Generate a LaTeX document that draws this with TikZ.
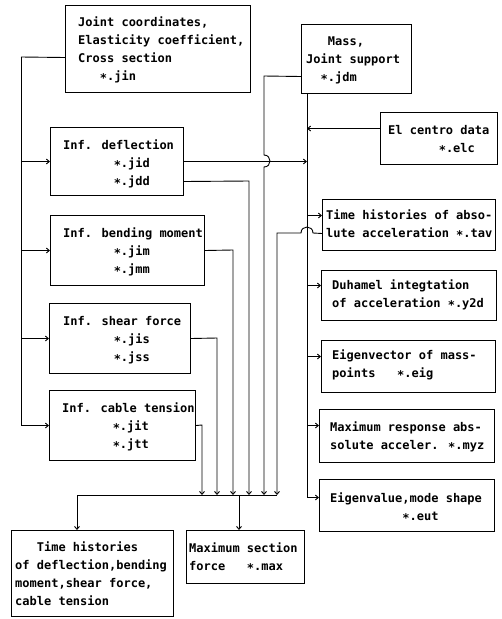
\documentclass[tikz,border=0pt]{standalone}
\usepackage{fontspec}
\newfontfamily\monofont{DejaVu Sans Mono}
\usetikzlibrary{arrows.meta,calc}
\newcommand\chsp[1]{\hspace*{#1\fontcharwd\font`x}}
\newcommand\mystar{\raisebox{-2pt}{*}}
\begin{document}
\begin{tikzpicture}[x=1pt,y=-1pt,
  box/.style={draw, line width=1pt, inner sep=0pt, anchor=north west},
  txt/.style={inner sep=0pt, anchor=north west, align=left, font=\monofont\bfseries\fontsize{12}{18}\selectfont},
  conn/.style={line width=0.9pt},
  arr/.style={conn, -{Straight Barb[length=3pt,width=5pt]}}]
\path[fill=white] (0,0) rectangle (502,619);
\useasboundingbox (0,0) rectangle (502,619);
% boxes
\node[box, minimum width=185pt, minimum height=87pt] (jin) at (65,5) {};
\node[box, minimum width=110pt, minimum height=69pt] (jdm) at (301,24) {};
\node[box, minimum width=117pt, minimum height=52pt] (elc) at (380,112) {};
\node[box, minimum width=133pt, minimum height=68pt] (jid) at (50,127) {};
\node[box, minimum width=154pt, minimum height=70pt] (jim) at (50,215) {};
\node[box, minimum width=141pt, minimum height=70pt] (jis) at (49,303) {};
\node[box, minimum width=146pt, minimum height=70pt] (jit) at (49,390) {};
\node[box, minimum width=173pt, minimum height=51pt] (tav) at (322,199) {};
\node[box, minimum width=175pt, minimum height=50pt] (y2d) at (321,270) {};
\node[box, minimum width=174pt, minimum height=52pt] (eig) at (321,340) {};
\node[box, minimum width=175pt, minimum height=53pt] (myz) at (319,409) {};
\node[box, minimum width=175pt, minimum height=52pt] (eut) at (319,479) {};
\node[box, minimum width=162pt, minimum height=86pt] (th) at (11,530) {};
\node[box, minimum width=118pt, minimum height=53pt] (max) at (186,530) {};
% texts
\node[txt] (jin-t) at (78,13.4) {\strut Joint coordinates,\\Elasticity coefficient,\\Cross section\\\chsp{3}\mystar.jin};
\node[txt] (jdm-t) at (306,32.4) {\strut\chsp{3}Mass,\\Joint support\\\chsp{2}\mystar.jdm};
\node[txt] (elc-t) at (388,121.4) {\strut El centro data\\\chsp{7}\mystar.elc};
\node[txt] (jid-t) at (63,136.4) {\strut Inf. deflection\\\chsp{7}\mystar.jid\\\chsp{7}\mystar.jdd};
\node[txt] (jim-t) at (63,224.4) {\strut Inf. bending moment\\\chsp{7}\mystar.jim\\\chsp{7}\mystar.jmm};
\node[txt] (jis-t) at (63,312.4) {\strut Inf. shear force\\\chsp{7}\mystar.jis\\\chsp{7}\mystar.jss};
\node[txt] (jit-t) at (62,399.4) {\strut Inf. cable tension\\\chsp{7}\mystar.jit\\\chsp{7}\mystar.jtt};
\node[txt] (tav-t) at (326,206.4) {\strut Time histories of abso-\\lute acceleration \mystar.tav};
\node[txt] (y2d-t) at (332,276.4) {\strut Duhamel integtation\\of acceleration \mystar.y2d};
\node[txt] (eig-t) at (332,346.4) {\strut Eigenvector of mass-\\points\chsp{3}\mystar.eig};
\node[txt] (myz-t) at (330,418.4) {\strut Maximum response abs-\\solute acceler. \mystar.myz};
\node[txt] (eut-t) at (330,489.4) {\strut Eigenvalue,mode shape\\\chsp{10}\mystar.eut};
\node[txt] (th-t) at (15,538.4) {\strut\chsp{3}Time histories\\of deflection,bending\\moment,shear force,\\cable tension};
\node[txt] (max-t) at (189,539.4) {\strut Maximum section\\force\chsp{3}\mystar.max};
% coordinates
\coordinate (tk) at (21,57);
\coordinate (mv) at (264,76);
\coordinate (rv) at (307,93);
\coordinate (busL) at (77,495);
\coordinate (busR) at (277,495);
\coordinate (busM) at (239,495);
\coordinate (jddv) at (249,181);
\coordinate (jimv) at (233,250);
\coordinate (jisv) at (217,338);
\coordinate (jitv) at (202,425);
\coordinate (tavc) at (277,233);
\coordinate (jinout) at ([yshift=-8.5pt]jin.west);
\coordinate (jdmout) at ([yshift=-17.5pt]jdm.west);
\coordinate (elcout) at ([yshift=10pt]elc.west);
\coordinate (jddout) at ([yshift=-20pt]jid.east);
\coordinate (tavout) at ([yshift=-8.5pt]tav.west);
\coordinate (tavin) at ([yshift=9.5pt]tav.west);
\coordinate (y2din) at ([yshift=10pt]y2d.west);
\coordinate (eigin) at ([yshift=10pt]eig.west);
\coordinate (myzin) at ([yshift=10.5pt]myz.west);
\coordinate (eutin) at ([yshift=8pt]eut.west);
% left trunk
\draw[conn] (jinout) -- (tk);
\draw[arr] (tk) |- (jit.west);
\draw[arr] (tk |- jid.west) -- (jid.west);
\draw[arr] (tk |- jim.west) -- (jim.west);
\draw[arr] (tk |- jis.west) -- (jis.west);
% mass line to bus with bridge
\draw[arr] (jdmout) -- (mv) -- (264,155)
  .. controls (272,155) and (272,167) .. (264,167) -- (mv |- busL);
% right vertical
\draw[arr] (rv) |- (eutin);
\draw[arr] (elcout) -- (rv |- elcout);
\draw[arr] (jid.east) -- (rv |- jid.east);
\draw[arr] (rv |- tavin) -- (tavin);
\draw[arr] (rv |- y2din) -- (y2din);
\draw[arr] (rv |- eigin) -- (eigin);
\draw[arr] (rv |- myzin) -- (myzin);
% influence outputs to bus
\draw[arr] (jddout) -- (jddv) -- (jddv |- busL);
\draw[arr] (jim.east) -- (jimv) -- (jimv |- busL);
\draw[arr] (jis.east) -- (jisv) -- (jisv |- busL);
\draw[arr] (jit.east) -- (jitv) -- (jitv |- busL);
% tav output to bus with bridge
\draw[arr] (tavout) -- (313,233)
  .. controls (313,225) and (301,225) .. (301,233) -- (tavc) -- (busR);
% bus
\draw[conn] (busL) -- (busR);
\draw[arr] (busL) -- (busL |- th.north);
\draw[arr] (busM) -- (busM |- max.north);
\end{tikzpicture}
\end{document}
